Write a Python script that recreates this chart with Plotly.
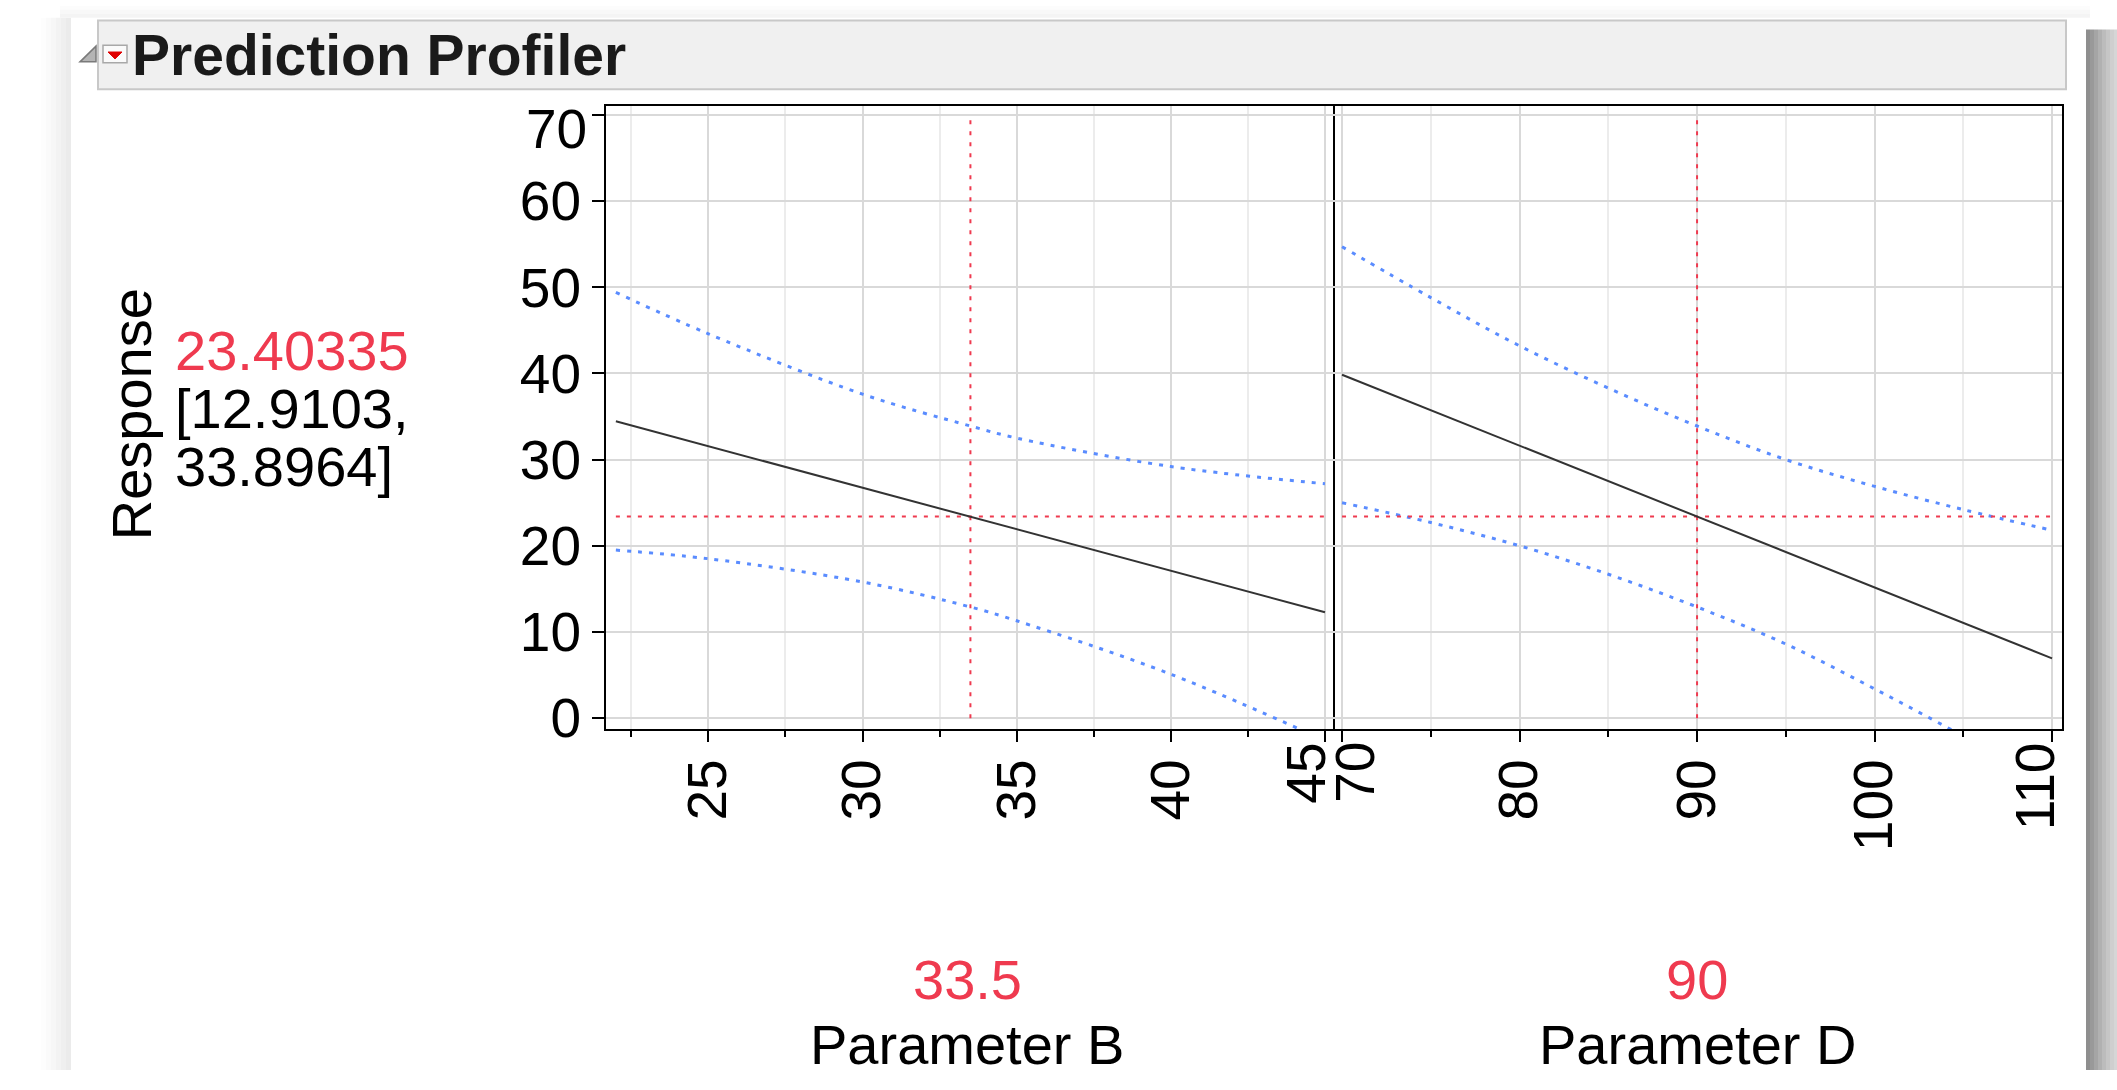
import plotly.graph_objects as go

W, H = 2117, 1090

# ---------------- data ----------------
b_vals = [22, 25, 30, 33.5, 35, 40, 45]
b_mean = [34.45, 31.56, 26.74, 23.40, 21.93, 17.11, 12.29]
b_upper = [49.4, 44.6, 37.6, 33.9, 32.5, 29.2, 27.2]
b_lower = [19.5, 18.5, 15.8, 12.9, 11.3, 5.1, -2.6]

d_vals = [70, 75, 80, 85, 90, 95, 100, 105, 110]
d_mean = [39.85, 35.74, 31.62, 27.51, 23.40, 19.28, 15.17, 11.05, 6.94]
d_upper = [54.7, 48.8, 43.2, 38.3, 33.9, 30.0, 26.9, 24.2, 21.8]
d_lower = [25.0, 22.7, 20.0, 16.7, 12.9, 8.6, 3.4, -2.1, -7.9]

current_b = 33.5
current_d = 90
pred_value = 23.40335
ci_low, ci_high = 12.9103, 33.8964

y_ticks = [0, 10, 20, 30, 40, 50, 60, 70]
b_ticks = [25, 30, 35, 40, 45]
b_minor = [22.5, 27.5, 32.5, 37.5, 42.5]
d_ticks = [70, 80, 90, 100, 110]
d_minor = [75, 85, 95, 105]

FONT = "Liberation Sans, Arial, sans-serif"
RED = "#ef3a4f"
BLUE = "#5a8cff"
GRID = "#d9d9d9"
MINOR_GRID = "#ececec"
TICK_SIZE = 55


def px(x):
    return x / W


def py(y):
    return 1 - y / H


fig = go.Figure()

ci_line = dict(color=BLUE, width=3, dash="4px,7px", shape="spline")
ref_line = dict(color=RED, width=2, dash="4px,7px")
mean_line = dict(color="#333333", width=2)

# ---- panel 1 traces ----
fig.add_trace(go.Scatter(x=b_vals, y=b_upper, mode="lines", line=ci_line, xaxis="x", yaxis="y", hoverinfo="skip"))
fig.add_trace(go.Scatter(x=b_vals, y=b_lower, mode="lines", line=ci_line, xaxis="x", yaxis="y", hoverinfo="skip"))
fig.add_trace(go.Scatter(x=[b_vals[0], b_vals[-1]], y=[pred_value, pred_value], mode="lines",
                         line=ref_line, xaxis="x", yaxis="y", hoverinfo="skip"))
fig.add_trace(go.Scatter(x=[current_b, current_b], y=[y_ticks[0], y_ticks[-1]], mode="lines",
                         line=ref_line, xaxis="x", yaxis="y", hoverinfo="skip"))
fig.add_trace(go.Scatter(x=b_vals, y=b_mean, mode="lines", line=mean_line, xaxis="x", yaxis="y", hoverinfo="skip"))

# ---- panel 2 traces ----
fig.add_trace(go.Scatter(x=d_vals, y=d_upper, mode="lines", line=ci_line, xaxis="x2", yaxis="y2", hoverinfo="skip"))
fig.add_trace(go.Scatter(x=d_vals, y=d_lower, mode="lines", line=ci_line, xaxis="x2", yaxis="y2", hoverinfo="skip"))
fig.add_trace(go.Scatter(x=[d_vals[0], d_vals[-1]], y=[pred_value, pred_value], mode="lines",
                         line=ref_line, xaxis="x2", yaxis="y2", hoverinfo="skip"))
fig.add_trace(go.Scatter(x=[current_d, current_d], y=[y_ticks[0], y_ticks[-1]], mode="lines",
                         line=ref_line, xaxis="x2", yaxis="y2", hoverinfo="skip"))
fig.add_trace(go.Scatter(x=d_vals, y=d_mean, mode="lines", line=mean_line, xaxis="x2", yaxis="y2", hoverinfo="skip"))

tickfont = dict(family=FONT, size=TICK_SIZE, color="black")

common_x = dict(showline=True, linecolor="black", linewidth=2, mirror=True,
                ticks="outside", ticklen=11, tickwidth=2, tickcolor="black",
                showgrid=True, gridcolor=GRID, gridwidth=2, zeroline=False,
                tickangle=-90, tickfont=tickfont, tickmode="array", ticklabelstandoff=-5)

xaxis1 = dict(common_x, domain=[px(606), px(1333)], range=[21.68, 45.26], anchor="y",
              tickvals=b_ticks, ticktext=[str(t) for t in b_ticks[:-1]] + [""],
              minor=dict(tickmode="array", tickvals=b_minor, ticks="outside", ticklen=6, tickwidth=2,
                         tickcolor="black", showgrid=True, gridcolor=MINOR_GRID, gridwidth=2))
xaxis2 = dict(common_x, domain=[px(1333), px(2062)], range=[69.49, 110.56], anchor="y2",
              tickvals=d_ticks, ticktext=[""] + [str(t) for t in d_ticks[1:-1]] + [""],
              minor=dict(tickmode="array", tickvals=d_minor, ticks="outside", ticklen=6, tickwidth=2,
                         tickcolor="black", showgrid=True, gridcolor=MINOR_GRID, gridwidth=2))

ydom = [py(743), py(108)]
yaxis1 = dict(domain=ydom, range=[-1.3, 71.03], anchor="x", showline=True, linecolor="black", linewidth=2,
              mirror=True, ticks="outside", ticklen=12, tickwidth=2, tickcolor="black",
              showgrid=True, gridcolor=GRID, gridwidth=2, zeroline=False, tickfont=tickfont,
              tickmode="array", tickvals=y_ticks, ticktext=[str(t) for t in y_ticks[:-1]] + [""])
# right side only, so the shared border between panels stays a single thin line
yaxis2 = dict(domain=ydom, range=[-1.3, 71.03], anchor="x2", side="right", showline=True, linecolor="black",
              linewidth=2, mirror=False, ticks="", showticklabels=False, showgrid=True, gridcolor=GRID,
              gridwidth=2, zeroline=False, tickmode="array", tickvals=y_ticks)

shapes = []
# card / page background
shapes.append(dict(type="rect", xref="paper", yref="paper", x0=px(71), x1=px(2086), y0=0, y1=py(18),
                   fillcolor="white", line=dict(width=0), layer="below"))
left_cols = ["#fdfdfd", "#fafafa", "#f7f7f7", "#f3f3f3", "#efefef", "#ebebeb"]
for i, c in enumerate(left_cols):
    x0 = 41 + i * 5
    shapes.append(dict(type="rect", xref="paper", yref="paper", x0=px(x0), x1=px(x0 + 5), y0=0, y1=py(18),
                       fillcolor=c, line=dict(width=0), layer="below"))
top_cols = ["#fcfcfc", "#f8f8f8", "#f4f4f4"]
for i, c in enumerate(top_cols):
    y0 = 6 + i * 4
    shapes.append(dict(type="rect", xref="paper", yref="paper", x0=px(60), x1=px(2090), y0=py(y0 + 4), y1=py(y0),
                       fillcolor=c, line=dict(width=0), layer="below"))
right_cols = ["#8e8e8e", "#999999", "#a5a5a5", "#b1b1b1", "#bcbcbc", "#c6c6c6", "#cfcfcf", "#d6d6d6"]
for i, c in enumerate(right_cols):
    x0 = 2086 + i * 4
    shapes.append(dict(type="rect", xref="paper", yref="paper", x0=px(x0), x1=px(x0 + 4), y0=0, y1=py(30),
                       fillcolor=c, line=dict(width=0), layer="below"))
# title bar
shapes.append(dict(type="rect", xref="paper", yref="paper", x0=px(98), x1=px(2066), y0=py(91), y1=py(21),
                   fillcolor="#f0f0f0", line=dict(color="#c8c8c8", width=2), layer="below"))
# collapse triangle icon
shapes.append(dict(type="path", xref="paper", yref="paper",
                   path=f"M {px(80)},{py(63)} L {px(96)},{py(63)} L {px(96)},{py(47)} Z",
                   fillcolor="#b4b4b4", line=dict(color="#7a7a7a", width=1.5), layer="above"))
# red menu button
shapes.append(dict(type="rect", xref="paper", yref="paper", x0=px(103), x1=px(127), y0=py(64), y1=py(46),
                   fillcolor="#fafafa", line=dict(color="#a8a8a8", width=1.5), layer="above"))
shapes.append(dict(type="path", xref="paper", yref="paper",
                   path=f"M {px(108)},{py(53)} L {px(122)},{py(53)} L {px(115)},{py(60)} Z",
                   fillcolor="#e00000", line=dict(color="#e00000", width=1), layer="above"))

annotations = []


def ann(text, x, y, size=55, color="black", xanchor="center", yanchor="middle", angle=0, bold=False,
        xref="paper", yref="paper", xshift=0):
    annotations.append(dict(text=f"<b>{text}</b>" if bold else text, x=x, y=y, xref=xref, yref=yref,
                            xanchor=xanchor, yanchor=yanchor, textangle=angle, showarrow=False,
                            xshift=xshift, font=dict(family=FONT, size=size, color=color)))


ann("Prediction Profiler", px(130), py(56), size=57, color="#1a1a1a", xanchor="left", bold=True)
ann("Response", px(131), py(422), size=56, angle=-90)
ann(f"{pred_value}", px(173), py(357), size=56, color=RED, xanchor="left")
ann(f"[{ci_low},", px(173), py(416), size=56, xanchor="left")
ann(f"{ci_high}]", px(173), py(475), size=56, xanchor="left")
# top y tick label (pushed inside like JMP)
ann(str(y_ticks[-1]), px(589), py(131), size=TICK_SIZE, xanchor="right")
# edge x tick labels shifted to avoid overlap
ann(str(b_ticks[-1]), b_ticks[-1], py(754), size=TICK_SIZE, angle=-90, xref="x", yanchor="top", xshift=-19)
ann(str(d_ticks[0]), d_ticks[0], py(754), size=TICK_SIZE, angle=-90, xref="x2", yanchor="top", xshift=13)
ann(str(d_ticks[-1]), d_ticks[-1], py(754), size=TICK_SIZE, angle=-90, xref="x2", yanchor="top", xshift=-17)
# factor current values and names
ann(f"{current_b}", px(967), py(998), size=56, color=RED)
ann("Parameter B", px(967), py(1064), size=56)
ann(f"{current_d}", px(1697), py(998), size=56, color=RED)
ann("Parameter D", px(1697), py(1064), size=56)

fig.update_layout(
    width=W, height=H, margin=dict(l=0, r=0, t=0, b=0),
    paper_bgcolor="white", plot_bgcolor="rgba(0,0,0,0)",
    showlegend=False,
    xaxis=xaxis1, xaxis2=xaxis2, yaxis=yaxis1, yaxis2=yaxis2,
    shapes=shapes, annotations=annotations,
)

fig.write_html("out.html", config={"displayModeBar": False},
               post_script="document.body.style.margin='0';document.body.style.overflow='hidden';")
